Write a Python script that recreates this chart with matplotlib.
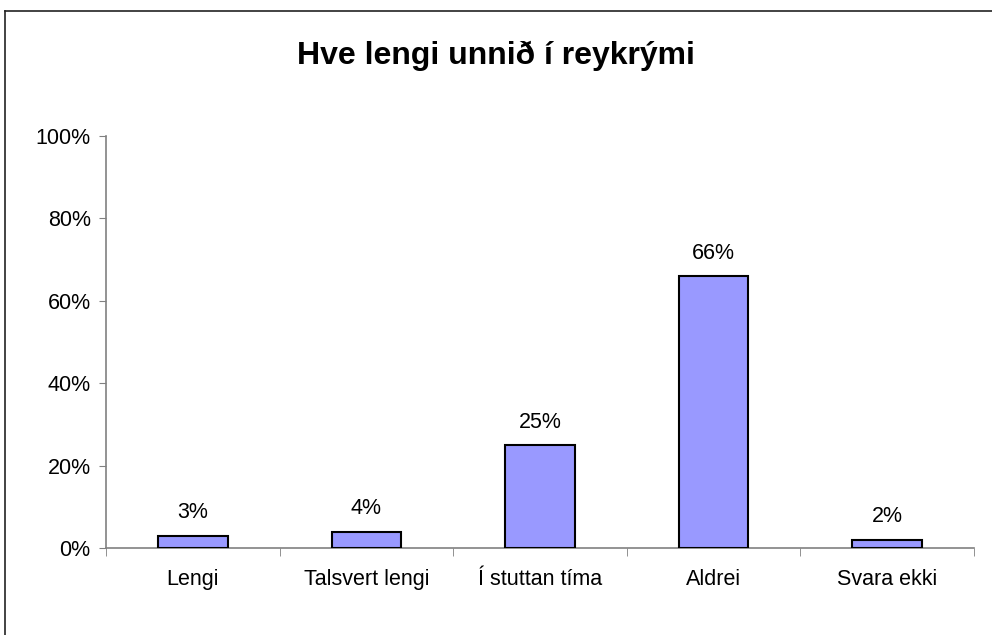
import matplotlib
matplotlib.use("Agg")
import matplotlib.pyplot as plt
from matplotlib.lines import Line2D
from matplotlib.ticker import FuncFormatter, MultipleLocator

categories = ["Lengi", "Talsvert lengi", "Í stuttan tíma", "Aldrei", "Svara ekki"]
values = [3, 4, 25, 66, 2]
title = "Hve lengi unnið í reykrými"

plt.rcParams['font.family'] = ['Liberation Sans', 'DejaVu Sans']

fig = plt.figure(figsize=(9.92, 6.35), dpi=100)
ax = fig.add_axes([106/992, 1-548/635, (974-106)/992, (548-136)/635])

x = list(range(len(categories)))
bars = ax.bar(x, values, width=0.4, color="#9999FF", edgecolor="black", linewidth=1.5, zorder=3)
for xi, v in zip(x, values):
    ax.annotate(f"{v}%", (xi, v), xytext=(0, 9), textcoords="offset points",
                ha="center", va="bottom", fontsize=15.5)

ax.set_xlim(-0.5, len(categories) - 0.5)
ax.set_ylim(0, 100)
ax.yaxis.set_major_locator(MultipleLocator(20))
ax.yaxis.set_major_formatter(FuncFormatter(lambda v, p: f"{int(v)}%"))
ax.set_xticks(x)
ax.set_xticklabels(categories)
ax.set_xticks([i - 0.5 for i in range(len(categories) + 1)], minor=True)
ax.tick_params(axis="x", which="major", length=0, pad=15, labelsize=15.5)
ax.tick_params(axis="x", which="minor", length=6, color="#808080", direction="out")
ax.tick_params(axis="y", length=5, color="#808080", pad=6, labelsize=15.5)

for s in ["top", "right"]:
    ax.spines[s].set_visible(False)
for s in ["left", "bottom"]:
    ax.spines[s].set_color("#808080")
    ax.spines[s].set_linewidth(1.2)

fig.text(0.5, 1 - 56/635, title, ha="center", va="center", fontsize=23, fontweight="bold")

# figure border (partially cut off at right and bottom)
bx = 4.5/992
by = 1 - 10.5/635
fig.add_artist(Line2D([bx, bx], [0, by], transform=fig.transFigure, color="#222222", lw=1.2))
fig.add_artist(Line2D([bx, 1], [by, by], transform=fig.transFigure, color="#222222", lw=1.2))

fig.savefig("out.png", dpi=100, facecolor="white")
